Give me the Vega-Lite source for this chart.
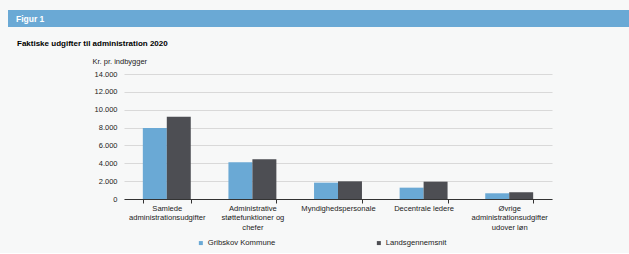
{
  "$schema": "https://vega.github.io/schema/vega-lite/v6.json",
  "background": "#f7f8f8",
  "padding": {"left": 8, "top": 10, "right": 0, "bottom": 6},
  "config": {"font": "Liberation Sans", "view": {"stroke": null}},
  "spacing": 13,
  "resolve": {"legend": {"color": "independent"}},
  "vconcat": [
    {
      "width": 621,
      "height": 17,
      "view": {"fill": "#6aa9d5", "stroke": null},
      "data": {"values": [{"label": "Figur 1"}]},
      "mark": {"type": "text", "align": "left", "baseline": "middle", "color": "white", "fontWeight": "bold", "fontSize": 8.5, "dx": 8},
      "encoding": {
        "text": {"field": "label"},
        "x": {"datum": 0, "type": "quantitative", "scale": {"domain": [0, 1]}, "axis": null},
        "y": {"datum": 0.5, "type": "quantitative", "scale": {"domain": [0, 1]}, "axis": null}
      }
    },
    {
      "width": 544,
      "height": 125,
      "title": {"text": "Faktiske udgifter til administration 2020", "anchor": "start", "frame": "group", "fontSize": 8, "fontWeight": "bold", "color": "#000000", "dx": 9, "offset": 9},
      "data": {"values": [
        {"kategori": "Samlede|administrationsudgifter", "serie": "Gribskov Kommune", "vaerdi": 7950},
        {"kategori": "Samlede|administrationsudgifter", "serie": "Landsgennemsnit", "vaerdi": 9200},
        {"kategori": "Administrative|støttefunktioner og|chefer", "serie": "Gribskov Kommune", "vaerdi": 4120},
        {"kategori": "Administrative|støttefunktioner og|chefer", "serie": "Landsgennemsnit", "vaerdi": 4450},
        {"kategori": "Myndighedspersonale", "serie": "Gribskov Kommune", "vaerdi": 1830},
        {"kategori": "Myndighedspersonale", "serie": "Landsgennemsnit", "vaerdi": 1980},
        {"kategori": "Decentrale ledere", "serie": "Gribskov Kommune", "vaerdi": 1270},
        {"kategori": "Decentrale ledere", "serie": "Landsgennemsnit", "vaerdi": 1940},
        {"kategori": "Øvrige|administrationsudgifter|udover løn", "serie": "Gribskov Kommune", "vaerdi": 640},
        {"kategori": "Øvrige|administrationsudgifter|udover løn", "serie": "Landsgennemsnit", "vaerdi": 760}
      ]},
      "mark": {"type": "bar"},
      "encoding": {
        "x": {
          "field": "kategori", "type": "nominal", "sort": null,
          "scale": {"range": [116, 544], "paddingInner": 0.44, "paddingOuter": 0.22},
          "axis": {
            "title": null, "labelAngle": 0, "labelExpr": "split(datum.label, '|')",
            "labelFontSize": 7.6, "labelLineHeight": 9.7, "labelColor": "#222222", "labelPadding": 1, "labelLimit": 0,
            "tickBand": "extent", "ticks": true, "tickSize": 4, "tickColor": "#333333",
            "domainColor": "#333333", "domainWidth": 1, "grid": false
          }
        },
        "xOffset": {"field": "serie", "sort": ["Gribskov Kommune", "Landsgennemsnit"]},
        "y": {
          "field": "vaerdi", "type": "quantitative",
          "scale": {"domain": [0, 14000]},
          "axis": {
            "values": [0, 2000, 4000, 6000, 8000, 10000, 12000, 14000],
            "labelExpr": "replace(format(datum.value, ','), ',', '.')",
            "labelFontSize": 7.5, "labelColor": "#222222", "labelPadding": 7,
            "offset": -116,
            "domain": false, "ticks": false, "grid": true, "gridColor": "#d9d9d9", "gridWidth": 1,
            "title": "Kr. pr. indbygger", "titleAngle": 0, "titleAlign": "left", "titleBaseline": "middle",
            "titleX": -32, "titleY": -13, "titleFontWeight": "normal", "titleFontSize": 7.5, "titleColor": "#222222"
          }
        },
        "color": {
          "field": "serie", "type": "nominal",
          "scale": {"domain": ["Gribskov Kommune", "Landsgennemsnit"], "range": ["#6aa9d5", "#4d4e53"]},
          "legend": {
            "title": null, "orient": "none", "legendX": 189, "legendY": 165, "direction": "horizontal",
            "symbolType": "square", "symbolSize": 16, "symbolStrokeWidth": 0,
            "labelFontSize": 7.7, "labelColor": "#222222", "labelOffset": 3, "columnPadding": 99
          }
        }
      }
    }
  ]
}
